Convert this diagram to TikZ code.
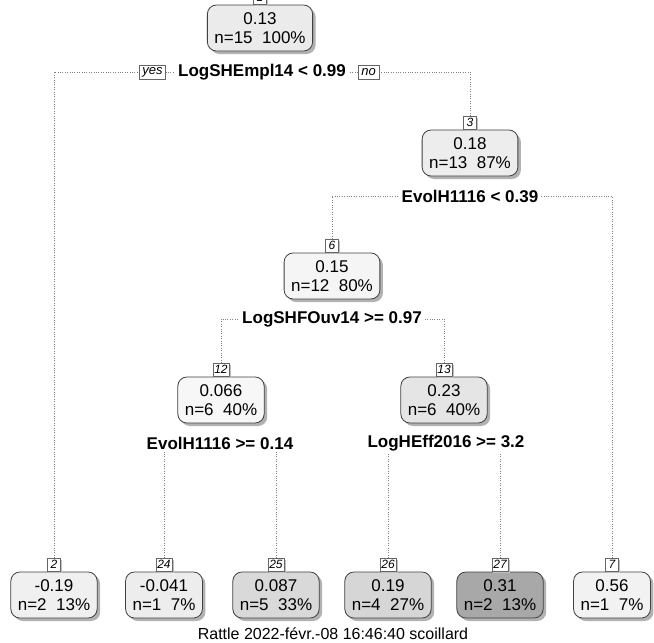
\documentclass[tikz,border=0pt]{standalone}
\usepackage{fontspec}
\setmainfont{Liberation Sans}
\usepackage{tikz}
\usetikzlibrary{shadows,positioning}

\begin{document}
\begin{tikzpicture}[x=1pt,y=-1pt,
  tnode/.style={draw=black!75, line width=0.8pt, rounded corners=9pt, align=center,
    minimum height=46pt, inner xsep=7pt, inner ysep=0pt,
    font=\fontsize{17}{19}\selectfont,
    drop shadow={shadow xshift=3pt, shadow yshift=-3pt, fill=black!30, opacity=1}},
  nnum/.style={draw=black!60, fill=white, line width=0.6pt, inner sep=1.5pt,
    minimum width=13pt, minimum height=13pt, anchor=south,
    font=\fontsize{12}{12}\itshape\selectfont,
    drop shadow={shadow xshift=1.5pt, shadow yshift=-1.5pt, fill=black!25, opacity=1}},
  splt/.style={fill=white, inner xsep=3pt, inner ysep=2pt, font=\fontsize{17}{17}\bfseries\selectfont},
  yesno/.style={draw=black!60, fill=white, line width=0.6pt, inner xsep=3pt, inner ysep=2pt,
    minimum height=14pt, font=\fontsize{13}{13}\itshape\selectfont},
  dots/.style={black!50, line width=0.7pt, dash pattern=on 0.8pt off 1.6pt}]

\useasboundingbox[fill=white] (0,0) rectangle (654,643);

% inner nodes
\node[tnode, fill=black!8] (n1) at (260,28) {0.13\\n=15\ \ 100\%};
\node[nnum] (k1) at (n1.north) {1};
\node[tnode, fill=black!7] (n3) at (470,153) {0.18\\n=13\ \ 87\%};
\node[nnum] (k3) at (n3.north) {3};
\node[tnode, fill=black!4] (n6) at (332,276) {0.15\\n=12\ \ 80\%};
\node[nnum] (k6) at (n6.north) {6};
\node[tnode, fill=black!3] (n12) at (221,400) {0.066\\n=6\ \ 40\%};
\node[nnum] (k12) at (n12.north) {12};
\node[tnode, fill=black!10] (n13) at (444,400) {0.23\\n=6\ \ 40\%};
\node[nnum] (k13) at (n13.north) {13};

% leaves
\foreach \id/\xx/\val/\cnt/\pct/\shade in {2/54/-0.19/2/13/6, 24/164/-0.041/1/7/7,
    25/276/0.087/5/33/15, 26/388/0.19/4/27/16, 27/500/0.31/2/13/34, 7/612/0.56/1/7/5} {
  \node[tnode, fill=black!\shade] (n\id) at (\xx,595) {\val\\n=\cnt\ \ \pct\%};
  \node[nnum] (k\id) at (n\id.north) {\id};
}

% splits
\coordinate (s1) at (262,72);
\coordinate (s3) at (470,196);
\coordinate (s6) at (332,319);
\coordinate (s12) at (220,443);
\coordinate (s13) at (446,443);

\draw[dots] (k2.north) |- (s1);
\draw[dots] (k3.north) |- (s1);
\draw[dots] (k6.north) |- (s3);
\draw[dots] (k7.north) |- (s3);
\draw[dots] (k12.north) |- (s6);
\draw[dots] (k13.north) |- (s6);
\draw[dots] (k24.north) |- (s12);
\draw[dots] (k25.north) |- (s12);
\draw[dots] (k26.north) |- (s13);
\draw[dots] (k27.north) |- (s13);

\node[splt] (t1) at (s1) {LogSHEmpl14 < 0.99};
\node[yesno, left=9pt of t1] (yes) {yes};
\node[yesno, right=9pt of t1] (no) {no};
\node[splt] (t3) at (s3) {EvolH1116 < 0.39};
\node[splt] (t6) at (s6) {LogSHFOuv14 >= 0.97};
\node[splt] (t12) at (s12) {EvolH1116 >= 0.14};
\node[splt] (t13) at (s13) {LogHEff2016 >= 3.2};

\node[font=\fontsize{16}{17}\selectfont] (foot) at (333,634) {Rattle 2022-févr.-08 16:46:40 scoillard};
\end{tikzpicture}
\end{document}
